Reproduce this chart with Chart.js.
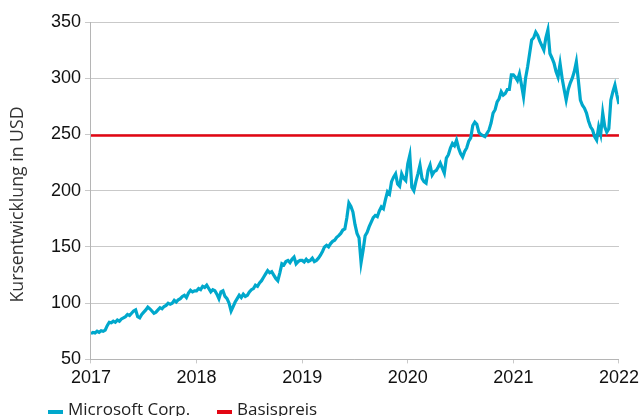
<!DOCTYPE html>
<html>
<head>
<meta charset="utf-8">
<script src="https://cdn.jsdelivr.net/npm/chart.js@4"></script>
<style>
  html, body { margin: 0; padding: 0; background: #fff; overflow: hidden; }
  #wrap { position: relative; width: 643px; height: 416px; overflow: hidden; }
  #legend { position: absolute; left: 0; top: 399px; width: 643px; height: 20px;
    font: 17px 'Open Sans', sans-serif; line-height: 20px; color: #222; }
  #legend .item { position: absolute; top: 0; white-space: nowrap; }
  #legend .swatch { position: absolute; left: 0; top: 11px; width: 15px; height: 4px; }
  #legend .label { position: absolute; left: 20px; top: 0; }
</style>
</head>
<body>
<div id="wrap">
  <canvas id="stockChart"></canvas>
  <div id="legend"></div>
</div>
<script>
// weekly closes, one array per year
const close2017 = [73, 74, 73.5, 75, 74, 75.5, 75, 76, 80, 83, 82.5, 84, 83, 85, 84, 86, 87, 88, 90, 89, 91, 93, 94, 88, 87, 90,
  92, 94, 96.5, 95, 93, 91, 92, 94, 96, 95, 97, 98, 100, 99, 100, 102.5, 101, 103, 104, 106, 107, 105, 109, 111.5, 110, 111];
const close2018 = [111, 113, 112, 115, 114, 116, 113, 110, 112, 111, 108, 104, 110, 111, 106, 104, 100, 93, 97, 101, 104, 107,
  105, 108, 106, 107, 110, 112, 113, 116, 115, 118, 120, 123, 126, 129, 127, 128, 125, 122, 120, 127, 135, 134, 137, 138, 136,
  139, 141, 135, 137, 138];
const close2019 = [138, 136.6, 139, 137, 138, 140, 137, 138, 140, 142.6, 146, 150, 151.5, 150, 153, 155, 156, 158.6, 160, 162,
  165, 166, 176, 189, 186, 181, 170, 162, 158, 136, 147, 160, 163, 168, 172, 176, 178, 177, 182, 185.6, 184, 192, 199, 197,
  208, 212, 215, 206, 204, 215, 211, 209];
const close2020 = [224, 231.6, 203, 200, 208, 215, 222.7, 211, 208, 206.7, 218, 222.7, 214, 217, 218, 221, 224.5, 220, 215.6,
  229, 232, 238, 242, 240, 245, 238, 233, 230, 235, 238, 244, 247, 258, 261, 259, 252, 250, 249, 248, 251, 254, 260, 269, 272,
  279, 282, 288, 285, 286.5, 290, 290, 303];
const close2021 = [303, 301, 298, 304, 294, 283.5, 300, 310, 322, 334, 336, 341, 338, 333, 329, 325, 336, 343, 322, 318, 313.5,
  306, 301, 313, 300, 290, 280.6, 290, 295.7, 300, 306, 314.7, 298, 280.6, 276, 273.4, 269, 262, 256.8, 254, 248, 245, 256.8,
  250, 269, 256.8, 252, 255, 280.6, 288, 294, 285, 277];

const strikePrice = 249;
const yearTicks = [2017, 2018, 2019, 2020, 2021, 2022];
const legendLeft = [48, 217];

const prices = [].concat(close2017, close2018, close2019, close2020, close2021);
const msftPoints = prices.map((v, i) => ({ x: 2017 + i / 52, y: v }));
const strikePoints = [{ x: yearTicks[0], y: strikePrice }, { x: yearTicks[yearTicks.length - 1], y: strikePrice }];

const gridGray = '#c9c9c9';

const ctx = document.getElementById('stockChart').getContext('2d');
const chart = new Chart(ctx, {
  type: 'line',
  data: {
    datasets: [{
      label: 'Microsoft Corp.',
      data: msftPoints,
      borderColor: '#00a8cc',
      backgroundColor: '#00a8cc',
      borderWidth: 3.2,
      pointRadius: 0,
      tension: 0
    }, {
      label: 'Basispreis',
      data: strikePoints,
      borderColor: '#e30613',
      backgroundColor: '#e30613',
      borderWidth: 2.5,
      pointRadius: 0
    }]
  },
  options: {
    responsive: true,
    maintainAspectRatio: false,
    animation: false,
    layout: { padding: { left: 3, right: 21, top: 22, bottom: 23 } },
    scales: {
      x: {
        type: 'linear',
        min: 2017,
        max: 2022,
        afterBuildTicks: axis => { axis.ticks = yearTicks.map(v => ({ value: v })); },
        ticks: {
          callback: v => String(v),
          color: '#111',
          padding: 4,
          maxRotation: 0,
          font: { family: 'Liberation Sans', size: 18 }
        },
        grid: { drawOnChartArea: false, tickLength: 4, color: gridGray },
        border: { color: '#b5b5b5' }
      },
      y: {
        min: 50,
        max: 350,
        ticks: {
          stepSize: 50,
          color: '#111',
          padding: 4,
          font: { family: 'Liberation Sans', size: 18 }
        },
        grid: { color: gridGray, tickLength: 6 },
        border: { color: '#b5b5b5' },
        title: {
          display: true,
          // trailing spaces push the title a bit down, as in the original
          text: 'Kursentwicklung in USD      ',
          color: '#333',
          font: { family: 'Open Sans', size: 17.7 },
          padding: { top: 4, bottom: 18.7 }
        }
      }
    },
    plugins: {
      legend: { display: false },
      tooltip: { enabled: false }
    }
  }
});

// legend under the plot, built from the datasets
const legend = document.getElementById('legend');
chart.data.datasets.forEach((ds, i) => {
  const item = document.createElement('div');
  item.className = 'item';
  item.style.left = legendLeft[i] + 'px';
  item.innerHTML = `<span class="swatch" style="background:${ds.borderColor}"></span><span class="label">${ds.label}</span>`;
  legend.appendChild(item);
});
</script>
</body>
</html>
